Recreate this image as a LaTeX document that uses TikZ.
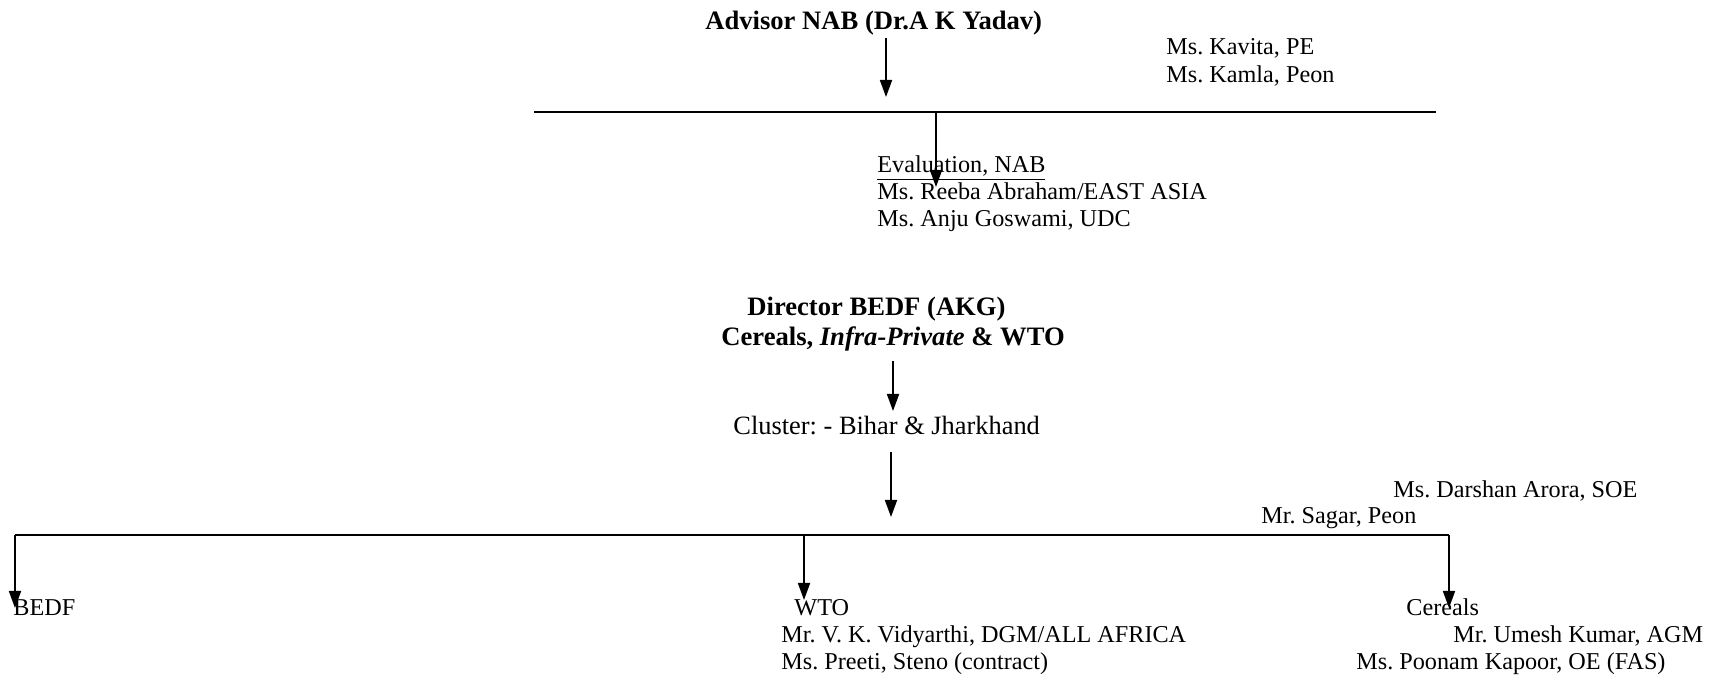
\documentclass[tikz,border=0pt]{standalone}
\usepackage{fontspec}
\setmainfont{Liberation Serif}
\usetikzlibrary{arrows.meta}
\frenchspacing
\tikzset{
  txt/.style={anchor=base west, inner sep=0pt, font=\fontsize{12.1}{13.5}\selectfont\frenchspacing},
  head/.style={anchor=base west, inner sep=0pt, font=\fontsize{13.3}{15}\selectfont\bfseries\frenchspacing},
  big/.style={anchor=base west, inner sep=0pt, font=\fontsize{13.2}{15}\selectfont\frenchspacing},
  conn/.style={line width=0.9pt, -{Triangle[length=8.5pt,width=6pt]}},
  bar/.style={line width=0.9pt}
}
\begin{document}
\begin{tikzpicture}[x=0.5pt,y=-0.5pt]
\useasboundingbox (0,0) rectangle (1715,678);
% top section
\node[head] (adv) at (705,30) {Advisor NAB (Dr.A K Yadav)};
\node[txt] (kav) at (1166,55) {Ms. Kavita, PE};
\node[txt] (kam) at (1166,83) {Ms. Kamla, Peon};
\coordinate (a1s) at (886,38);
\coordinate (a1e) at (886,97);
\draw[conn] (a1s) -- (a1e);
\coordinate (l1a) at (534,112);
\coordinate (l1b) at (1436,112);
\draw[bar] (l1a) -- (l1b);
\coordinate (a2s) at (936,112);
\coordinate (a2e) at (936,187);
\node[txt] (eval) at (877,173) {\underline{Evaluation, NAB}};
\node[txt] (reeba) at (877,200) {Ms. Reeba Abraham/EAST ASIA};
\node[txt] (anju) at (877,227) {Ms. Anju Goswami, UDC};
\draw[conn] (a2s) -- (a2e);
% director
\node[head] (dir) at (747,316) {Director BEDF (AKG)};
\node[head] (cer) at (721,346) {Cereals, \textit{Infra-Private} \& WTO};
\coordinate (a3s) at (893,361);
\coordinate (a3e) at (893,411);
\draw[conn] (a3s) -- (a3e);
\node[big] (clu) at (733,435) {Cluster: - Bihar \& Jharkhand};
\coordinate (a4s) at (891,452);
\coordinate (a4e) at (891,517);
\draw[conn] (a4s) -- (a4e);
\node[txt] (dar) at (1393,498) {Ms. Darshan Arora, SOE};
\node[txt] (sag) at (1261,524) {Mr. Sagar, Peon};
% bottom bar
\coordinate (l2a) at (15,535);
\coordinate (l2w) at (804,535);
\coordinate (l2b) at (1449,535);
\draw[bar] (l2a) -- (l2b);
\node[txt] (bedf) at (13,616) {BEDF};
\node[txt] (wto) at (794,616) {WTO};
\node[txt] (vkv) at (781,643) {Mr. V. K. Vidyarthi, DGM/ALL AFRICA};
\node[txt] (pre) at (781,669) {Ms. Preeti, Steno (contract)};
\node[txt] (cls) at (1406,616) {Cereals};
\node[txt] (ume) at (1453,643) {Mr. Umesh Kumar, AGM};
\node[txt] (poo) at (1356,669) {Ms. Poonam Kapoor, OE (FAS)};
\coordinate (b1) at (15,608);
\coordinate (b2) at (804,600);
\coordinate (b3) at (1449,608);
\draw[conn] (l2a) -- (b1);
\draw[conn] (l2w) -- (b2);
\draw[conn] (l2b) -- (b3);
\end{tikzpicture}
\end{document}
